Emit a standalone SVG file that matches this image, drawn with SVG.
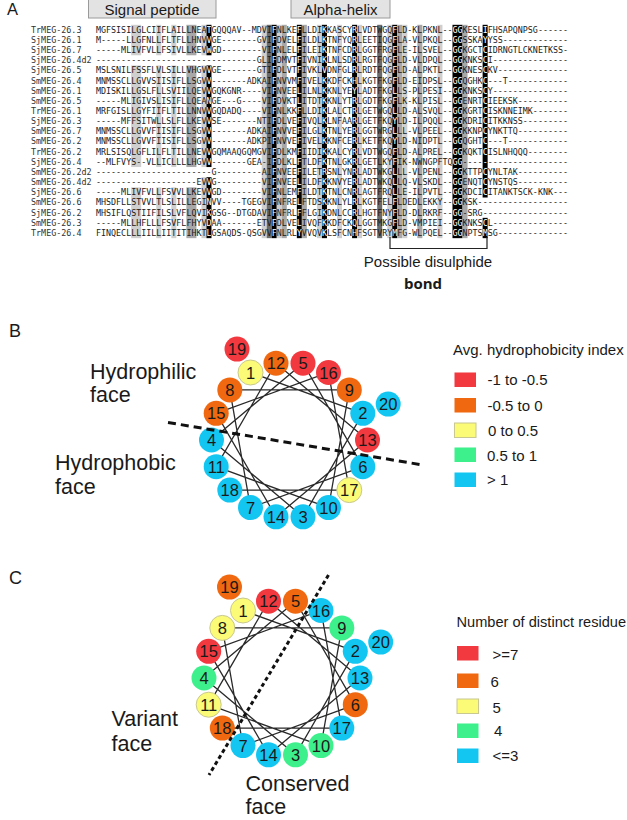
<svg xmlns="http://www.w3.org/2000/svg" xmlns:xlink="http://www.w3.org/1999/xlink" width="627" height="820" viewBox="0 0 627 820">
<style>
.seq{font-family:"DejaVu Sans Mono",monospace;font-size:8.34px}
.nm{font-family:"DejaVu Sans Mono",monospace;font-size:8.4px;fill:#333}
.t{font-family:"Liberation Sans",Arial,sans-serif;fill:#1a1a1a}
.num{font-family:"Liberation Sans",Arial,sans-serif;font-size:16.5px;text-anchor:middle;fill:#1a1a1a}
.r{fill:#f2393f}.o{fill:#f0680f}.y{fill:#fbfb78;stroke:#c8c890;stroke-width:1}.g{fill:#3df08c}.b{fill:#13c6f2}
.wl{fill:none;stroke:#2a2a2a;stroke-width:1.3}
.k{fill:#000}.d{fill:#6a6a6a}.m{fill:#a8a8a8}.l{fill:#cfcfcf}
.box{fill:#e3e3e3;stroke:#9a9a9a;stroke-width:1}
</style>
<defs>
<clipPath id="blk">
<rect x="206.46" y="24.8" width="5.02" height="30.48"/>
<rect x="206.46" y="65.44" width="5.02" height="101.6"/>
<rect x="206.46" y="177.2" width="5.02" height="60.96"/>
<rect x="271.74" y="24.8" width="5.02" height="213.36"/>
<rect x="296.84" y="24.8" width="5.02" height="213.36"/>
<rect x="321.95" y="24.8" width="5.02" height="213.36"/>
<rect x="352.07" y="24.8" width="5.02" height="213.36"/>
<rect x="392.24" y="24.8" width="5.02" height="213.36"/>
<rect x="452.49" y="24.8" width="10.04" height="213.36"/>
<rect x="482.62" y="24.8" width="5.02" height="142.24"/>
<rect x="482.62" y="167.04" width="5.02" height="30.48"/>
<rect x="482.62" y="217.84" width="5.02" height="20.32"/>
</clipPath>
</defs>

<g id="panel-A">
<text class="t" x="7" y="15" font-size="16.5">A</text>
<g id="signal-peptide"><rect class="box" x="88.5" y="-1" width="127.5" height="19"/><text class="t" x="152" y="15" font-size="15" text-anchor="middle">Signal peptide</text></g>
<g id="alpha-helix"><rect class="box" x="291" y="-1" width="99" height="19"/><text class="t" x="340.5" y="15" font-size="15" text-anchor="middle">Alpha-helix</text></g>

<g id="shading">
<rect class="l" x="131.15" y="24.8" width="10.04" height="30.48"/><rect class="l" x="131.15" y="65.44" width="10.04" height="101.6"/><rect class="l" x="131.15" y="187.36" width="10.04" height="50.8"/>
<rect class="l" x="156.25" y="24.8" width="5.02" height="30.48"/><rect class="l" x="156.25" y="65.44" width="5.02" height="101.6"/><rect class="l" x="156.25" y="187.36" width="5.02" height="50.8"/>
<rect class="l" x="171.32" y="24.8" width="5.02" height="30.48"/><rect class="l" x="171.32" y="65.44" width="5.02" height="101.6"/><rect class="l" x="171.32" y="187.36" width="5.02" height="50.8"/>
<rect class="m" x="186.38" y="24.8" width="10.04" height="30.48"/><rect class="m" x="186.38" y="65.44" width="10.04" height="101.6"/><rect class="m" x="186.38" y="187.36" width="10.04" height="50.8"/>
<rect class="l" x="201.44" y="24.8" width="5.02" height="30.48"/><rect class="l" x="201.44" y="65.44" width="5.02" height="101.6"/><rect class="l" x="201.44" y="177.2" width="5.02" height="60.96"/>
<rect class="k" x="206.46" y="24.8" width="5.02" height="30.48"/><rect class="k" x="206.46" y="65.44" width="5.02" height="101.6"/><rect class="k" x="206.46" y="177.2" width="5.02" height="60.96"/>
<rect class="l" x="261.69" y="24.8" width="5.02" height="213.36"/>
<rect class="d" x="266.71" y="24.8" width="5.02" height="213.36"/>
<rect class="k" x="271.74" y="24.8" width="5.02" height="213.36"/>
<rect class="l" x="276.76" y="24.8" width="5.02" height="213.36"/>
<rect class="m" x="281.78" y="24.8" width="5.02" height="213.36"/>
<rect class="k" x="296.84" y="24.8" width="5.02" height="213.36"/>
<rect class="m" x="301.86" y="24.8" width="5.02" height="213.36"/>
<rect class="l" x="316.92" y="24.8" width="5.02" height="213.36"/>
<rect class="k" x="321.95" y="24.8" width="5.02" height="213.36"/>
<rect class="l" x="337.01" y="24.8" width="5.02" height="213.36"/>
<rect class="k" x="352.07" y="24.8" width="5.02" height="213.36"/>
<rect class="l" x="357.09" y="24.8" width="5.02" height="213.36"/>
<rect class="d" x="377.18" y="24.8" width="5.02" height="213.36"/>
<rect class="l" x="387.22" y="24.8" width="5.02" height="213.36"/>
<rect class="k" x="392.24" y="24.8" width="5.02" height="213.36"/>
<rect class="m" x="397.26" y="24.8" width="5.02" height="213.36"/>
<rect class="l" x="402.28" y="24.8" width="5.02" height="213.36"/>
<rect class="m" x="417.34" y="24.8" width="5.02" height="213.36"/>
<rect class="l" x="437.43" y="24.8" width="5.02" height="213.36"/>
<rect class="k" x="452.49" y="24.8" width="10.04" height="213.36"/>
<rect class="m" x="462.53" y="24.8" width="5.02" height="213.36"/>
<rect class="k" x="482.62" y="24.8" width="5.02" height="142.24"/><rect class="k" x="482.62" y="167.04" width="5.02" height="30.48"/><rect class="k" x="482.62" y="217.84" width="5.02" height="20.32"/>
</g>

<g id="names" class="nm">
<text x="31" y="32.7">TrMEG-26.3</text>
<text x="31" y="42.86">SjMEG-26.1</text>
<text x="31" y="53.02">SjMEG-26.7</text>
<text x="31" y="63.18">SjMEG-26.4d2</text>
<text x="31" y="73.34">SjMEG-26.5</text>
<text x="31" y="83.5">SmMEG-26.4</text>
<text x="31" y="93.66">SmMEG-26.1</text>
<text x="31" y="103.82">SmMEG-26.5</text>
<text x="31" y="113.98">TrMEG-26.1</text>
<text x="31" y="124.14">SjMEG-26.3</text>
<text x="31" y="134.3">SmMEG-26.7</text>
<text x="31" y="144.46">SmMEG-26.2</text>
<text x="31" y="154.62">TrMEG-26.2</text>
<text x="31" y="164.78">SjMEG-26.4</text>
<text x="31" y="174.94">SmMEG-26.2d2</text>
<text x="31" y="185.1">SmMEG-26.4d2</text>
<text x="31" y="195.26">SjMEG-26.6</text>
<text x="31" y="205.42">SmMEG-26.6</text>
<text x="31" y="215.58">SjMEG-26.2</text>
<text x="31" y="225.74">SmMEG-26.3</text>
<text x="31" y="235.9">TrMEG-26.4</text>
</g>

<g fill="#1a1a1a">
<g id="seqs" class="seq">
<text x="96" y="32.7" textLength="472" lengthAdjust="spacing">MGFSISILGLCIIFLAILLNEATGQQQAV--MDVIFNLKEFLLDIKKASCYRLVDTWGQFLD-KLPKNL--GGKESLIFHSAPQNPSG------</text>
<text x="96" y="42.86" textLength="472" lengthAdjust="spacing">M-----LLGFNLLFLTFLLHNVVGE-------GVIFDVELFILDLKTNFYQRLEETIQGFLA-VLPKQL--GGSSKAYYSS-------------</text>
<text x="96" y="53.02" textLength="472" lengthAdjust="spacing">-----MLIVFVLLFSIVLLKEVWGD--------VIFNLELFILEIKTNFCDRLGGTFRGFLE-ILSVEL--GGKGCTCIDRNGTLCKNETKSS-</text>
<text x="96" y="63.18" textLength="472" lengthAdjust="spacing">--------------------------------GLIFDMVTFIVNIKLNLSDRLRGTFQGFLD-VLDPQL--GGKNKSCI---------------</text>
<text x="96" y="73.34" textLength="472" lengthAdjust="spacing">MSLSNILFSSFLVLSILLVHGVVGE-------GTIFDLVTFIVKLVDNFGLRLRDTFQGFLD-ALPKTL--GGKNESCKV--------------</text>
<text x="96" y="83.5" textLength="472" lengthAdjust="spacing">MNMSSCLLGVVSIISIFLLSGVV-------ADKAIFNVVMFIVELKKDFCKHLKGTFKGFLD-EIDPSL--GGQGHKC---T------------</text>
<text x="96" y="93.66" textLength="472" lengthAdjust="spacing">MDISKILLGSLFLLSVIILQEVVGQKGNR----VIFNVEELILNLKKNLYEYLADTFKGLLS-PLPESI--GGKNKSCY---------------</text>
<text x="96" y="103.82" textLength="472" lengthAdjust="spacing">-----MLIGIVSLISIFLLQEANGE---G----VIFDVKTLITDTKKNLYTRLGDTFKGFLK-KLPISL--GGENRTCIEEKSK----------</text>
<text x="96" y="113.98" textLength="472" lengthAdjust="spacing">MRFGISLLGYFIIFLTILLNNVVGQDADQ----VIFNLKKFLLDIKLALCTRLGETWGQLLD-ALSVQL--GGKGRTCISKNNEIMK-------</text>
<text x="96" y="124.14" textLength="472" lengthAdjust="spacing">-----MFFSITWLLSLFLLKEVVSE-------NTIFDLVEFIVQLKLNFAARLGETFKQYLD-ILPQQL--GGKDRICITKKNSS---------</text>
<text x="96" y="134.3" textLength="472" lengthAdjust="spacing">MNMSSCLLGVVFIISIFLLSGVV-------ADKAIFNVVEFILGLKTNLYERLGGTWRGLLL-VLPEEL--GGKKNPCYNKTTQ----------</text>
<text x="96" y="144.46" textLength="472" lengthAdjust="spacing">MNMSSCLLGVVFIISIFLLSGVV-------ADKPIFNVVEFIVELKKNFCERLKETFKQYLD-NIDPTL--GGQGHTC---T------------</text>
<text x="96" y="154.62" textLength="472" lengthAdjust="spacing">MRLSISQLGFLILFLTILLNEVVGQMAAQGQMGVIFDLKMFIIDIKKALCYRLVDTWGQFLD-ALPREL--GGKQKTCISLNHQQQ--------</text>
<text x="96" y="164.78" textLength="472" lengthAdjust="spacing">--MLFVYS--VLLICLLLLHGVV-------GEA-IFDLKLFTLDFKTNLGKRLGETLKYFIK-NWNGPFTQGG---------------------</text>
<text x="96" y="174.94" textLength="472" lengthAdjust="spacing">-----------------------G---------AIFNVEEFILETRSNLYNRLADTWKGLLL-VLPENL--GGKTTPCYNLTAK----------</text>
<text x="96" y="185.1" textLength="472" lengthAdjust="spacing">--------------------EVVG---------VIFNVEELILDFKKNVYERLADTWKQLLQ-VLSKDL--GGENQTCYNSTQS----------</text>
<text x="96" y="195.26" textLength="472" lengthAdjust="spacing">-----MLIVFVLLFSVVLLKEVVGD--------VIFNLEMFILDTKTNLCNRLAGTFRQLLE-ILPVTL--GGKDCICITANKTSCK-KNK---</text>
<text x="96" y="205.42" textLength="472" lengthAdjust="spacing">MHSDFLLSTVVLTLSLILLEGINVV----TGEGVIFNFRELFTDSKKNLYLRLKGTFELFLDEDLEKKY--GGKSK------------------</text>
<text x="96" y="215.58" textLength="472" lengthAdjust="spacing">MHSIFLQSTIIFILSLVFLQVIKGSG--DTGDAVIFNFRLFFLGIKDNLCCRLHGTFNYFLD-DLRKRF--GG-SRG-----------------</text>
<text x="96" y="225.74" textLength="472" lengthAdjust="spacing">-----MLLHFLLLFSVFLFHYVDAA-------ETVFDLVELIVQFKKDFCKQLGGTMKGFLD-VMPIEI--GGKNKSCL---------------</text>
<text x="96" y="235.9" textLength="472" lengthAdjust="spacing">FINQECLLLIILLIITITIHKTLGSAQDS-QSGVVFNLRLYVVQVKLSFCNHFSGTVRYMFG-WLPQEL--GGNPTSMSG--------------</text>
</g>
</g>
<use xlink:href="#seqs" href="#seqs" fill="#fff" clip-path="url(#blk)"/>

<g id="disulphide">
<path d="M390,237 V248.5 H487 V237" fill="none" stroke="#222" stroke-width="1.2"/>
<text class="t" x="428" y="267" font-size="15" text-anchor="middle">Possible disulphide</text>
<text x="423" y="288.5" font-size="15" font-weight="bold" text-anchor="middle" font-family="Open Sans, Liberation Sans, sans-serif" fill="#1a1a1a">bond</text>
</g>
</g>

<g id="panel-B">
<text class="t" x="9" y="337" font-size="18">B</text>
<text class="t" x="90" y="378.5" font-size="21.5">Hydrophilic</text>
<text class="t" x="90" y="401.5" font-size="21.5">face</text>
<text class="t" x="55" y="470" font-size="21.5">Hydrophobic</text>
<text class="t" x="55" y="494" font-size="21.5">face</text>
<g id="connectors-B">
<polyline class="wl" points="250.5,372.5 362.8,413.3 303,516.8 211.5,440 303,363.2 362.8,466.7 250.5,507.6 229.8,389.9 349.3,389.9 328.5,507.6 216.2,466.7 276,363.2 367.5,440 276,516.8 216.2,413.3 328.5,372.5 349.3,490.1 229.8,490.1"/>
</g>
<g id="B1"><circle class="y" cx="250.5" cy="372.5" r="12.5"/><text class="num" x="250.5" y="378.5">1</text></g>
<g id="B2"><circle class="b" cx="362.8" cy="413.3" r="12.5"/><text class="num" x="362.8" y="419.3">2</text></g>
<g id="B3"><circle class="b" cx="303" cy="516.8" r="12.5"/><text class="num" x="303" y="522.8">3</text></g>
<g id="B4"><circle class="b" cx="211.5" cy="440" r="12.5"/><text class="num" x="211.5" y="446">4</text></g>
<g id="B5"><circle class="r" cx="303" cy="363.2" r="12.5"/><text class="num" x="303" y="369.2">5</text></g>
<g id="B6"><circle class="b" cx="362.8" cy="466.7" r="12.5"/><text class="num" x="362.8" y="472.7">6</text></g>
<g id="B7"><circle class="b" cx="250.5" cy="507.6" r="12.5"/><text class="num" x="250.5" y="513.6">7</text></g>
<g id="B8"><circle class="o" cx="229.8" cy="389.9" r="12.5"/><text class="num" x="229.8" y="395.9">8</text></g>
<g id="B9"><circle class="o" cx="349.3" cy="389.9" r="12.5"/><text class="num" x="349.3" y="395.9">9</text></g>
<g id="B10"><circle class="b" cx="328.5" cy="507.6" r="12.5"/><text class="num" x="328.5" y="513.6">10</text></g>
<g id="B11"><circle class="b" cx="216.2" cy="466.7" r="12.5"/><text class="num" x="216.2" y="472.7">11</text></g>
<g id="B12"><circle class="o" cx="276" cy="363.2" r="12.5"/><text class="num" x="276" y="369.2">12</text></g>
<g id="B13"><circle class="r" cx="367.5" cy="440" r="12.5"/><text class="num" x="367.5" y="446">13</text></g>
<g id="B14"><circle class="b" cx="276" cy="516.8" r="12.5"/><text class="num" x="276" y="522.8">14</text></g>
<g id="B15"><circle class="o" cx="216.2" cy="413.3" r="12.5"/><text class="num" x="216.2" y="419.3">15</text></g>
<g id="B16"><circle class="r" cx="328.5" cy="372.5" r="12.5"/><text class="num" x="328.5" y="378.5">16</text></g>
<g id="B17"><circle class="y" cx="349.3" cy="490.1" r="12.5"/><text class="num" x="349.3" y="496.1">17</text></g>
<g id="B18"><circle class="b" cx="229.8" cy="490.1" r="12.5"/><text class="num" x="229.8" y="496.1">18</text></g>
<g id="B19"><circle class="r" cx="237" cy="349.1" r="12.5"/><text class="num" x="237" y="355.1">19</text></g>
<g id="B20"><circle class="b" cx="388.2" cy="404.1" r="12.5"/><text class="num" x="388.2" y="410.1">20</text></g>
<line x1="168" y1="422.5" x2="423" y2="465" stroke="#111" stroke-width="3" stroke-dasharray="8 5"/>
<g id="legend-B">
<text class="t" x="453" y="355" font-size="15">Avg. hydrophobicity index</text>
<rect class="r" x="454.5" y="372.5" width="21.5" height="14.5"/><text class="t" x="487.5" y="385" font-size="15">-1 to -0.5</text>
<rect class="o" x="454.5" y="398" width="21.5" height="14.5"/><text class="t" x="487.5" y="410.5" font-size="15">-0.5 to 0</text>
<rect class="y" x="454.5" y="423" width="21.5" height="14.5"/><text class="t" x="488" y="436" font-size="15">0 to 0.5</text>
<rect class="g" x="454.5" y="447.5" width="21.5" height="14.5"/><text class="t" x="487" y="461" font-size="15">0.5 to 1</text>
<rect class="b" x="454.5" y="472.5" width="21.5" height="14.5"/><text class="t" x="487" y="485" font-size="15">&gt; 1</text>
</g>
</g>

<g id="panel-C">
<text class="t" x="9" y="584" font-size="18">C</text>
<text class="t" x="111.5" y="726" font-size="21.5">Variant</text>
<text class="t" x="111.5" y="751" font-size="21.5">face</text>
<text class="t" x="245.5" y="791" font-size="21.5">Conserved</text>
<text class="t" x="245.5" y="814" font-size="21.5">face</text>
<g id="connectors-C">
<polyline class="wl" points="243,610.5 355.3,651.3 295.5,754.8 204,678 295.5,601.2 355.3,704.7 243,745.6 222.3,627.9 341.8,627.9 321,745.6 208.7,704.7 268.5,601.2 360,678 268.5,754.8 208.7,651.3 321,610.5 341.8,728.1 222.3,728.1"/>
</g>
<g id="C1"><circle class="y" cx="243" cy="610.5" r="12.5"/><text class="num" x="243" y="616.5">1</text></g>
<g id="C2"><circle class="b" cx="355.3" cy="651.3" r="12.5"/><text class="num" x="355.3" y="657.3">2</text></g>
<g id="C3"><circle class="g" cx="295.5" cy="754.8" r="12.5"/><text class="num" x="295.5" y="760.8">3</text></g>
<g id="C4"><circle class="g" cx="204" cy="678" r="12.5"/><text class="num" x="204" y="684">4</text></g>
<g id="C5"><circle class="o" cx="295.5" cy="601.2" r="12.5"/><text class="num" x="295.5" y="607.2">5</text></g>
<g id="C6"><circle class="o" cx="355.3" cy="704.7" r="12.5"/><text class="num" x="355.3" y="710.7">6</text></g>
<g id="C7"><circle class="b" cx="243" cy="745.6" r="12.5"/><text class="num" x="243" y="751.6">7</text></g>
<g id="C8"><circle class="y" cx="222.3" cy="627.9" r="12.5"/><text class="num" x="222.3" y="633.9">8</text></g>
<g id="C9"><circle class="g" cx="341.8" cy="627.9" r="12.5"/><text class="num" x="341.8" y="633.9">9</text></g>
<g id="C10"><circle class="g" cx="321" cy="745.6" r="12.5"/><text class="num" x="321" y="751.6">10</text></g>
<g id="C11"><circle class="y" cx="208.7" cy="704.7" r="12.5"/><text class="num" x="208.7" y="710.7">11</text></g>
<g id="C12"><circle class="r" cx="268.5" cy="601.2" r="12.5"/><text class="num" x="268.5" y="607.2">12</text></g>
<g id="C13"><circle class="b" cx="360" cy="678" r="12.5"/><text class="num" x="360" y="684">13</text></g>
<g id="C14"><circle class="b" cx="268.5" cy="754.8" r="12.5"/><text class="num" x="268.5" y="760.8">14</text></g>
<g id="C15"><circle class="r" cx="208.7" cy="651.3" r="12.5"/><text class="num" x="208.7" y="657.3">15</text></g>
<g id="C16"><circle class="b" cx="321" cy="610.5" r="12.5"/><text class="num" x="321" y="616.5">16</text></g>
<g id="C17"><circle class="b" cx="341.8" cy="728.1" r="12.5"/><text class="num" x="341.8" y="734.1">17</text></g>
<g id="C18"><circle class="o" cx="222.3" cy="728.1" r="12.5"/><text class="num" x="222.3" y="734.1">18</text></g>
<g id="C19"><circle class="o" cx="229.5" cy="587.1" r="12.5"/><text class="num" x="229.5" y="593.1">19</text></g>
<g id="C20"><circle class="b" cx="380.7" cy="642.1" r="12.5"/><text class="num" x="380.7" y="648.1">20</text></g>
<line x1="328.5" y1="575" x2="209" y2="775" stroke="#111" stroke-width="3" stroke-dasharray="4 3"/>
<g id="legend-C">
<text class="t" x="456.5" y="626.5" font-size="14.6">Number of distinct residue</text>
<rect class="r" x="457" y="646" width="21.5" height="14.5"/><text class="t" x="492.5" y="659.5" font-size="15">&gt;=7</text>
<rect class="o" x="457" y="673.5" width="21.5" height="14.5"/><text class="t" x="490.5" y="686.5" font-size="15">6</text>
<rect class="y" x="457" y="699" width="21.5" height="14.5"/><text class="t" x="492.5" y="712.5" font-size="15">5</text>
<rect class="g" x="457" y="723.5" width="21.5" height="14.5"/><text class="t" x="494" y="736" font-size="15">4</text>
<rect class="b" x="457" y="748.5" width="21.5" height="14.5"/><text class="t" x="492.5" y="761" font-size="15">&lt;=3</text>
</g>
</g>
</svg>
